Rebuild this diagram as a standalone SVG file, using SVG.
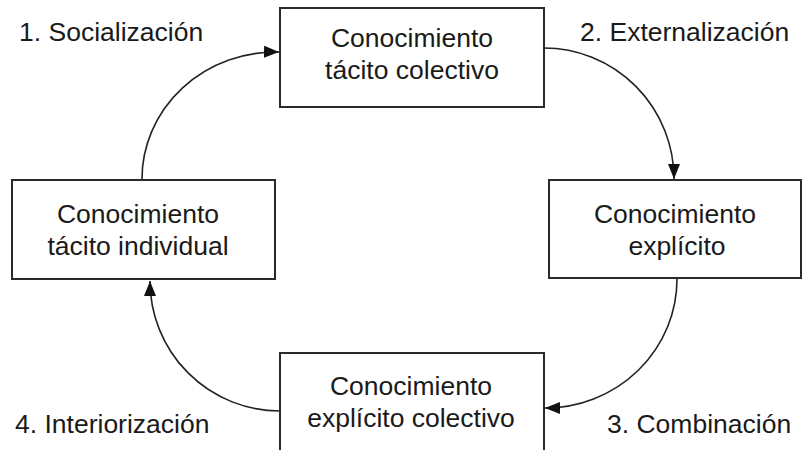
<svg xmlns="http://www.w3.org/2000/svg" width="803" height="450" viewBox="0 0 803 450">
<defs>
<style>
.box{fill:#fff;stroke:#2a2a2a;stroke-width:2}
.t{font-family:"Liberation Sans",Arial,sans-serif;font-size:26.5px;fill:#1a1a1a}
.c{text-anchor:middle}
.con{fill:none;stroke:#222;stroke-width:1.6}
</style>
<marker id="ah" markerUnits="userSpaceOnUse" markerWidth="16" markerHeight="12" refX="15" refY="6" orient="auto">
<path d="M0,0 L15,6 L0,12 Z" fill="#111"/>
</marker>
</defs>
<rect width="803" height="450" fill="#fff"/>
<g id="connectors">
<path class="con" d="M142,179 A134,127 0 0 1 279,52" marker-end="url(#ah)"/>
<path class="con" d="M544,48 A130,131 0 0 1 674,179" marker-end="url(#ah)"/>
<path class="con" d="M677,279 A132,129 0 0 1 545,408" marker-end="url(#ah)"/>
<path class="con" d="M280,411 A130,130 0 0 1 150,281" marker-end="url(#ah)"/>
</g>
<g id="n-tacito-colectivo">
<rect class="box" x="280" y="8" width="264" height="99"/>
<text class="t c" x="412" y="47">Conocimiento</text>
<text class="t c" x="412" y="79">tácito colectivo</text>
</g>
<g id="n-tacito-individual">
<rect class="box" x="12" y="180" width="263" height="99"/>
<text class="t c" x="138" y="223">Conocimiento</text>
<text class="t c" x="138" y="255">tácito individual</text>
</g>
<g id="n-explicito">
<rect class="box" x="549" y="180" width="252" height="98"/>
<text class="t c" x="675" y="223">Conocimiento</text>
<text class="t c" x="677" y="255">explícito</text>
</g>
<g id="n-explicito-colectivo">
<rect class="box" x="280" y="353" width="264" height="99"/>
<text class="t c" x="411" y="395">Conocimiento</text>
<text class="t c" x="411" y="427">explícito colectivo</text>
</g>
<g id="labels">
<text class="t" x="19" y="41">1. Socialización</text>
<text class="t" x="580" y="41">2. Externalización</text>
<text class="t" x="607" y="433">3. Combinación</text>
<text class="t" x="15" y="433">4. Interiorización</text>
</g>
</svg>
